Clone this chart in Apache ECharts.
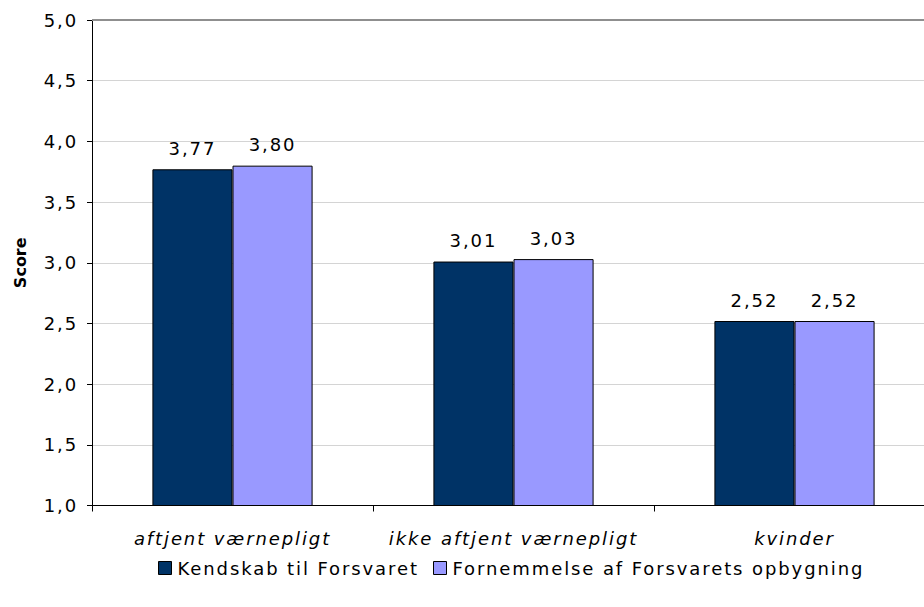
<!DOCTYPE html>
<html><head><meta charset="utf-8">
<script src="https://cdn.jsdelivr.net/npm/echarts@6/dist/echarts.min.js"></script>
<style>html,body{margin:0;padding:0;background:#fff}#c{width:924px;height:607px;letter-spacing:1.9px;overflow:hidden}</style>
</head><body><div id="c"></div>
<script>
const categories = ["aftjent værnepligt", "ikke aftjent værnepligt", "kvinder"];
const seriesNames = ["Kendskab til Forsvaret", "Fornemmelse af Forsvarets opbygning"];
const kendskab = [3.77, 3.01, 2.52];
const fornemmelse = [3.80, 3.03, 2.52];
const yMin = 1.0, yMax = 5.0, yStep = 0.5;

const fmt = v => v.toFixed(2).replace('.', ',');
const FONT = 'DejaVu Sans';
const chart = echarts.init(document.getElementById('c'), null, { renderer: 'svg' });
function mk(name, data, color, withTop) {
  const s = {
    name, type: 'bar', data,
    barGap: '0%', barCategoryGap: '43%',
    itemStyle: { color, borderColor: '#000', borderWidth: 1 },
    label: { show: true, position: 'top', distance: 12, formatter: p => fmt(p.value),
      color: '#000', fontFamily: FONT, fontSize: 18 }
  };
  if (withTop) {
    s.markLine = { silent: true, symbol: 'none', label: { show: false },
      lineStyle: { color: '#8f8f8f', width: 2, type: 'solid' },
      data: [{ yAxis: yMax }] };
  }
  return s;
}
const legendText = { fontFamily: FONT, fontSize: 18, color: '#000', padding: [0,0,0,1] };
const legendCommon = { top: 554, itemWidth: 13, itemHeight: 13, icon: 'rect', textStyle: legendText,
  itemStyle: { borderColor: '#000', borderWidth: 1 } };
chart.setOption({
  animation: false,
  textStyle: { fontFamily: FONT },
  grid: { left: 92, top: 20, width: 843, height: 485.5, containLabel: false, outerBoundsMode: 'none' },
  legend: [
    Object.assign({ data: [seriesNames[0]], left: 153 }, legendCommon),
    Object.assign({ data: [seriesNames[1]], left: 428 }, legendCommon)
  ],
  xAxis: {
    type: 'category', data: categories,
    axisLine: { lineStyle: { color: '#000', width: 1 } },
    axisTick: { show: true, alignWithLabel: false, length: 6, lineStyle: { color: '#000' } },
    axisLabel: { color: '#000', fontStyle: 'italic', fontFamily: FONT, fontSize: 18, margin: 24 }
  },
  yAxis: {
    type: 'value', min: yMin, max: yMax, interval: yStep,
    name: 'Score', nameLocation: 'middle', nameGap: 64, nameRotate: 90,
    nameTextStyle: { fontWeight: 'bold', fontFamily: FONT, fontSize: 16, color: '#000' },
    axisLine: { show: true, lineStyle: { color: '#000' } },
    axisTick: { show: true, length: 5, lineStyle: { color: '#000' } },
    axisLabel: { color: '#000', fontFamily: FONT, fontSize: 18, margin: 14,
      formatter: v => v.toFixed(1).replace('.', ',') },
    splitLine: { lineStyle: { color: '#d4d4d4' } }
  },
  series: [mk(seriesNames[0], kendskab, '#003366', true), mk(seriesNames[1], fornemmelse, '#9999FF', false)]
});
document.querySelectorAll('#c text').forEach(t => {
  if (t.textContent === 'Score') t.style.letterSpacing = '0px';
});
</script></body></html>
